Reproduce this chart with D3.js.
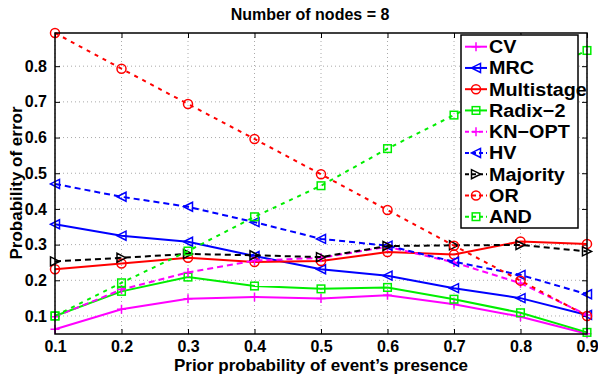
<!DOCTYPE html>
<html><head><meta charset="utf-8">
<script src="https://cdn.jsdelivr.net/npm/d3@7"></script>
<style>body{margin:0;background:#fff}svg{display:block}text{font-family:"Liberation Sans",Arial,sans-serif;font-weight:bold}</style>
</head><body><svg id="c" width="598" height="376"></svg>
<script>
const xValues = [0.1,0.2,0.3,0.4,0.5,0.6,0.7,0.8,0.9];
const seriesNames = ["CV","MRC","Multistage","Radix\u22122","KN\u2212OPT","HV","Majority","OR","AND"];
const cv         = [0.063,0.119,0.148,0.153,0.149,0.158,0.133,0.098,0.050];
const mrc        = [0.357,0.325,0.308,0.268,0.231,0.213,0.178,0.150,0.103];
const multistage = [0.231,0.247,0.263,0.251,0.254,0.279,0.272,0.309,0.302];
const radix2     = [0.100,0.169,0.209,0.184,0.176,0.180,0.147,0.109,0.054];
const knopt      = [0.098,0.174,0.222,0.255,0.263,0.294,0.250,0.192,0.103];
const hv         = [0.470,0.434,0.406,0.363,0.316,0.297,0.252,0.215,0.161];
const majority   = [0.253,0.263,0.274,0.270,0.265,0.296,0.298,0.299,0.281];
const orRule     = [0.893,0.793,0.694,0.596,0.497,0.397,0.297,0.199,0.100];
const andRule    = [0.100,0.193,0.282,0.378,0.465,0.569,0.663,0.757,0.844];
const xTicks = [0.1,0.2,0.3,0.4,0.5,0.6,0.7,0.8,0.9];
const yTicks = [0.1,0.2,0.3,0.4,0.5,0.6,0.7,0.8];
const titleText = "Number of nodes = 8";
const xLabel = "Prior probability of event\u2019s presence";
const yLabel = "Probability of error";

const styles = [
  {color:"#ff00ff", dash:null, marker:"plus"},
  {color:"#0000ff", dash:null, marker:"tleft"},
  {color:"#ff0000", dash:null, marker:"circle"},
  {color:"#00ee00", dash:null, marker:"square"},
  {color:"#ff00ff", dash:"6,4", marker:"plus"},
  {color:"#0000ff", dash:"6,4", marker:"tleft"},
  {color:"#000000", dash:"6,4", marker:"tright"},
  {color:"#ff0000", dash:"4,5", marker:"circle"},
  {color:"#00ee00", dash:"4,5", marker:"square"}
];
const allSeries = [cv,mrc,multistage,radix2,knopt,hv,majority,orRule,andRule];

const svg = d3.select("#c");
const L=55,R=587,T=33,B=334;
const x = d3.scaleLinear().domain([0.1,0.9]).range([L,R]);
const y = d3.scaleLinear().domain([0.0495,0.893]).range([B,T]);

// grid
const g = svg.append("g");
g.selectAll("line.gx").data(xTicks).join("line")
  .attr("x1",d=>x(d)).attr("x2",d=>x(d)).attr("y1",T).attr("y2",B)
  .attr("stroke","#aaa").attr("stroke-width",1).attr("stroke-dasharray","1,3");
g.selectAll("line.gy").data(yTicks).join("line")
  .attr("y1",d=>y(d)).attr("y2",d=>y(d)).attr("x1",L).attr("x2",R)
  .attr("stroke","#aaa").attr("stroke-width",1).attr("stroke-dasharray","1,3");

// axes
const xAxisB = d3.axisBottom(x).tickValues(xTicks).tickSizeInner(-5).tickSizeOuter(0).tickPadding(7).tickFormat(d3.format(".1f"));
const yAxisL = d3.axisLeft(y).tickValues(yTicks).tickSizeInner(-5).tickSizeOuter(0).tickPadding(8).tickFormat(d3.format(".1f"));
const ax = svg.append("g").attr("transform",`translate(0,${B})`).call(xAxisB);
const ay = svg.append("g").attr("transform",`translate(${L},0)`).call(yAxisL);
svg.append("g").attr("transform",`translate(0,${T})`).call(d3.axisTop(x).tickValues(xTicks).tickSizeInner(-5).tickSizeOuter(0).tickFormat(""));
svg.append("g").attr("transform",`translate(${R},0)`).call(d3.axisRight(y).tickValues(yTicks).tickSizeInner(-5).tickSizeOuter(0).tickFormat(""));
svg.selectAll(".domain").remove();
svg.selectAll(".tick line").attr("stroke","#000").attr("stroke-width",1);
[ax,ay].forEach(a=>a.selectAll("text").attr("font-size",16).attr("fill","#000")
  .style("font-family","'Liberation Sans',Arial,sans-serif").style("font-weight","bold"));

// series
function markerPath(sel, type, color){
  const s=4.5;
  if(type==="circle") sel.append("circle").attr("r",4.5).attr("fill","none").attr("stroke",color).attr("stroke-width",1.5);
  else if(type==="square") sel.append("rect").attr("x",-3.8).attr("y",-3.8).attr("width",7.6).attr("height",7.6).attr("fill","none").attr("stroke",color).attr("stroke-width",1.5);
  else if(type==="plus") sel.append("path").attr("d",`M${-s},0H${s}M0,${-s}V${s}`).attr("stroke",color).attr("stroke-width",1.5);
  else if(type==="tleft") sel.append("path").attr("d",`M${-s},0L${s},${-s}L${s},${s}Z`).attr("fill","none").attr("stroke",color).attr("stroke-width",1.5);
  else if(type==="tright") sel.append("path").attr("d",`M${s},0L${-s},${-s}L${-s},${s}Z`).attr("fill","none").attr("stroke",color).attr("stroke-width",1.5);
}
const line = d3.line().x((d,i)=>x(xValues[i])).y(d=>y(d));
allSeries.forEach((vals,k)=>{
  const st=styles[k];
  const sg=svg.append("g");
  sg.append("path").datum(vals).attr("d",line).attr("fill","none").attr("stroke",st.color)
    .attr("stroke-width",2).attr("stroke-dasharray",st.dash);
  vals.forEach((v,i)=>{
    const m=sg.append("g").attr("transform",`translate(${x(xValues[i])},${y(v)})`);
    markerPath(m,st.marker,st.color);
  });
});

// box
svg.append("rect").attr("x",L).attr("y",T).attr("width",R-L).attr("height",B-T)
  .attr("fill","none").attr("stroke","#000").attr("stroke-width",1.5);

// legend
const lg = svg.append("g");
lg.append("rect").attr("x",461).attr("y",35).attr("width",117).attr("height",193)
  .attr("fill","#fff").attr("stroke","#000").attr("stroke-width",1.5);
seriesNames.forEach((name,k)=>{
  const st=styles[k];
  const cy=46.7+k*21.25;
  lg.append("line").attr("x1",465).attr("x2",487).attr("y1",cy).attr("y2",cy)
    .attr("stroke",st.color).attr("stroke-width",2).attr("stroke-dasharray",st.dash?"4,3":null);
  const m=lg.append("g").attr("transform",`translate(476,${cy})`);
  markerPath(m,st.marker,st.color);
  lg.append("text").attr("transform",`translate(489,${cy+6.5}) scale(1.07,1)`)
    .attr("font-size",18.5).attr("fill","#000").text(name);
});

// labels
svg.append("text").attr("x",310).attr("y",20).attr("text-anchor","middle").attr("font-size",16).text(titleText);
svg.append("text").attr("x",321).attr("y",371).attr("text-anchor","middle").attr("font-size",17).text(xLabel);
svg.append("text").attr("transform",`translate(22,183) rotate(-90)`).attr("text-anchor","middle").attr("font-size",17).text(yLabel);
</script></body></html>
